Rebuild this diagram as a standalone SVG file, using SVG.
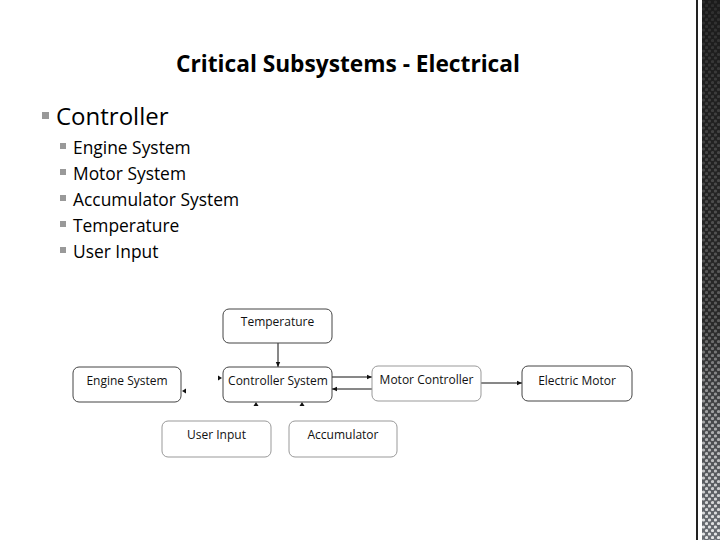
<svg xmlns="http://www.w3.org/2000/svg" width="720" height="540" viewBox="0 0 720 540">
<style>
.t{font-family:"Open Sans","Liberation Sans",sans-serif;fill:#000}
.box{fill:#fff;stroke:#444;stroke-width:1}
.boxl{fill:#fff;stroke:#999;stroke-width:1}
.lbl{font-family:"Open Sans","Liberation Sans",sans-serif;font-size:12px;fill:#111;text-anchor:middle}
.ln{stroke:#111;stroke-width:1;fill:none}
.bul{fill:#999}
</style>
<defs>
<marker id="ah" markerWidth="6" markerHeight="6" refX="5" refY="3" orient="auto" markerUnits="userSpaceOnUse">
<path d="M0,0.8 L5,3 L0,5.2 Z" fill="#111"/>
</marker>
<linearGradient id="bandG" x1="0" y1="0" x2="0" y2="1">
<stop offset="0" stop-color="#1c1c1c"/>
<stop offset="0.6" stop-color="#2a2a2a"/>
<stop offset="1" stop-color="#6a6e74"/>
</linearGradient>
<linearGradient id="dotG" x1="0" y1="0" x2="0" y2="1">
<stop offset="0" stop-color="#fff" stop-opacity="0.08"/>
<stop offset="0.6" stop-color="#fff" stop-opacity="0.25"/>
<stop offset="1" stop-color="#fff" stop-opacity="0.85"/>
</linearGradient>
<mask id="dotM">
<rect x="700" y="0" width="20" height="540" fill="url(#dotG)"/>
</mask>
<pattern id="dots" x="702" y="0" width="6" height="7" patternUnits="userSpaceOnUse">
<circle cx="1.5" cy="2" r="1.6" fill="#fff"/>
<circle cx="4.5" cy="5.5" r="1.6" fill="#fff"/>
</pattern>
</defs>
<rect width="720" height="540" fill="#fff"/>
<g id="sideband">
<rect x="696" y="0" width="2" height="540" fill="#222"/>
<rect x="702" y="0" width="18" height="540" fill="url(#bandG)"/>
<rect x="702" y="0" width="18" height="540" fill="url(#dots)" mask="url(#dotM)"/>
</g>
<g id="title">
<text class="t" x="348" y="72" font-size="22.7" font-weight="bold" text-anchor="middle">Critical Subsystems - Electrical</text>
</g>
<g id="bullets">
<rect class="bul" x="42" y="112" width="7" height="7"/>
<text class="t" x="56" y="125" font-size="24">Controller</text>
<rect class="bul" x="60" y="143" width="6" height="6"/>
<text class="t" x="73" y="154" font-size="17.4">Engine System</text>
<rect class="bul" x="60" y="169" width="6" height="6"/>
<text class="t" x="73" y="180" font-size="17.4">Motor System</text>
<rect class="bul" x="60" y="195" width="6" height="6"/>
<text class="t" x="73" y="206" font-size="17.4">Accumulator System</text>
<rect class="bul" x="60" y="221" width="6" height="6"/>
<text class="t" x="73" y="232" font-size="17.4">Temperature</text>
<rect class="bul" x="60" y="247" width="6" height="6"/>
<text class="t" x="73" y="258" font-size="17.4">User Input</text>
</g>
<g id="connectors">
<line class="ln" x1="278" y1="343" x2="278" y2="367" marker-end="url(#ah)"/>
<line class="ln" x1="332" y1="377" x2="372" y2="377" marker-end="url(#ah)"/>
<line class="ln" x1="372" y1="389" x2="332" y2="389" marker-end="url(#ah)"/>
<line class="ln" x1="481" y1="383" x2="522" y2="383" marker-end="url(#ah)"/>
<path d="M218,375.5 L222,378 L218,380.5 Z" fill="#111"/>
<path d="M186,388.5 L182,391 L186,393.5 Z" fill="#111"/>
<path d="M253.5,406 L256,402 L258.5,406 Z" fill="#111"/>
<path d="M299.5,406 L302,402 L304.5,406 Z" fill="#111"/>
</g>
<g id="temperature">
<rect class="box" x="223" y="309" width="109" height="34" rx="6"/>
<text class="lbl" x="277.5" y="326">Temperature</text>
</g>
<g id="controller-system">
<rect class="box" x="223" y="367" width="109" height="35" rx="6"/>
<text class="lbl" x="278" y="385">Controller System</text>
</g>
<g id="engine-system">
<rect class="box" x="73" y="367" width="108" height="35" rx="6"/>
<text class="lbl" x="127" y="385">Engine System</text>
</g>
<g id="motor-controller">
<rect class="boxl" x="372" y="366" width="109" height="35" rx="6"/>
<text class="lbl" x="426.5" y="384">Motor Controller</text>
</g>
<g id="electric-motor">
<rect class="box" x="522" y="366" width="110" height="35" rx="6"/>
<text class="lbl" x="577" y="385">Electric Motor</text>
</g>
<g id="user-input">
<rect class="boxl" x="162" y="421" width="109" height="36" rx="6"/>
<text class="lbl" x="216.5" y="439">User Input</text>
</g>
<g id="accumulator">
<rect class="boxl" x="289" y="421" width="108" height="36" rx="6"/>
<text class="lbl" x="343" y="439">Accumulator</text>
</g>
</svg>
